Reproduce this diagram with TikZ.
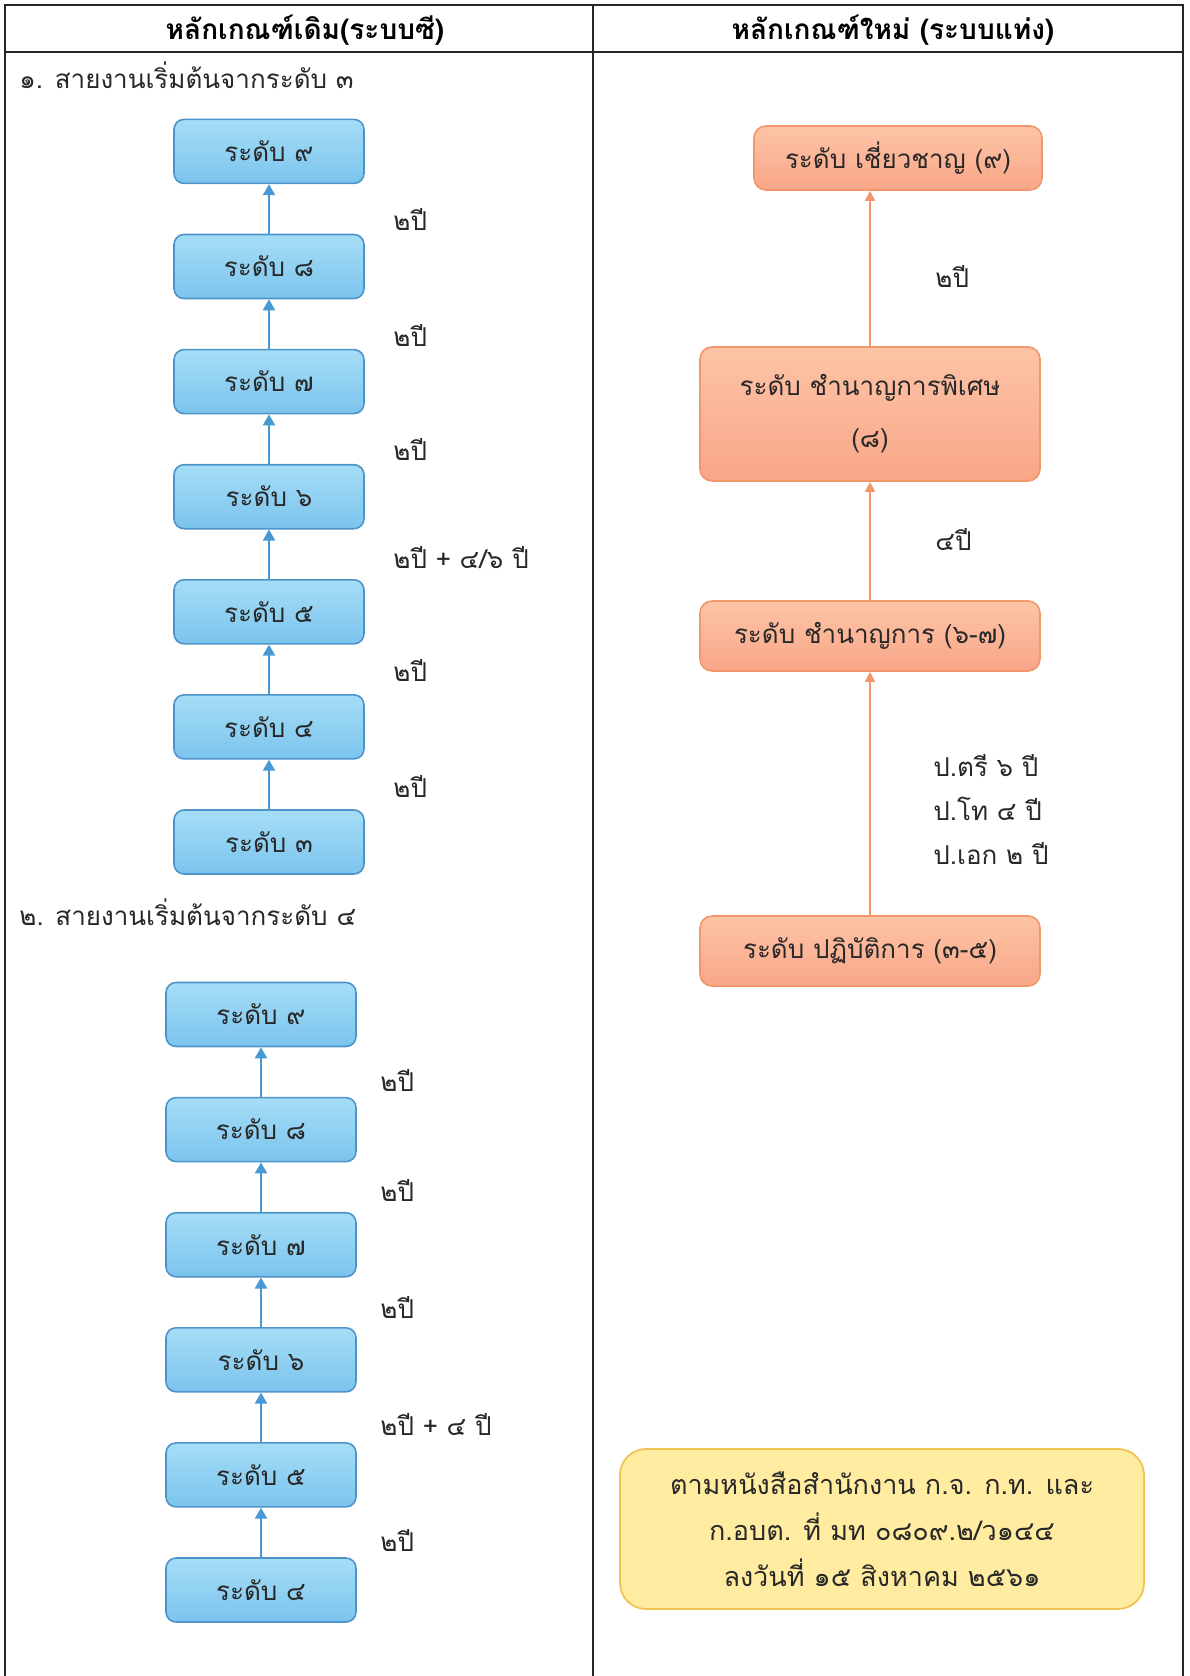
\documentclass[tikz,border=0pt]{standalone}
\usepackage{fontspec}
\setmainfont[Script=Thai]{Loma}
\usetikzlibrary{positioning,arrows.meta}
\definecolor{bluetop}{RGB}{165,221,246}
\definecolor{bluebot}{RGB}{124,196,238}
\definecolor{blueline}{RGB}{78,148,202}
\definecolor{bluearrow}{RGB}{72,152,212}
\definecolor{orangetop}{RGB}{253,196,166}
\definecolor{orangebot}{RGB}{249,166,136}
\definecolor{orangeline}{RGB}{242,150,108}
\definecolor{yellowfill}{RGB}{255,236,160}
\definecolor{yellowline}{RGB}{240,196,84}
\definecolor{inkgray}{RGB}{40,40,40}

\begin{document}
\begin{tikzpicture}[x=0.5pt,y=-0.5pt,font=\fontsize{13}{17}\selectfont,text=inkgray,node distance=24.75pt]
	\tikzset{LevelBox/.style={draw=blueline,line width=0.8pt,rounded corners=5pt,
			top color=bluetop,bottom color=bluebot,minimum width=95pt,minimum height=32pt,inner sep=0pt}}
	\tikzset{RankBox/.style={draw=orangeline,line width=0.8pt,rounded corners=6pt,
			top color=orangetop,bottom color=orangebot,minimum width=170pt,minimum height=35pt,inner sep=0pt}}
	\tikzset{NoteBox/.style={draw=yellowline,line width=0.9pt,rounded corners=13pt,fill=yellowfill,
			minimum width=262pt,minimum height=80pt,align=center,font=\fontsize{13.5}{23}\selectfont}}
	\tikzset{UpBlue/.style={-{Triangle[width=6pt,length=5.5pt]},draw=bluearrow,line width=1.1pt}}
	\tikzset{UpOrange/.style={-{Triangle[width=5pt,length=5pt]},draw=orangeline,line width=0.8pt}}
	\tikzset{YearLbl/.style={anchor=west,inner sep=0pt}}
	\tikzset{TableRule/.style={line width=1pt,draw=black!85}}
	\tikzset{HeadLbl/.style={font=\fontsize{14}{17}\selectfont\bfseries,text=black}}
	\useasboundingbox (0,0) rectangle (1189,1676);

	\draw[TableRule] (5,1676) -- (5,5) -- (1183,5) -- (1183,1676);
	\draw[TableRule] (5,52) -- (1183,52);
	\draw[TableRule] (593,5) -- (593,1676);
	\node[HeadLbl] (hOld) at (305,30) {หลักเกณฑ์เดิม(ระบบซี)};
	\node[HeadLbl] (hNew) at (893,30) {หลักเกณฑ์ใหม่ (ระบบแท่ง)};

	\node[anchor=west,inner sep=0pt] (secA) at (19,75) {๑. สายงานเริ่มต้นจากระดับ ๓};
	\node[LevelBox] (aL3) at (269,842) {ระดับ ๓};
	\node[LevelBox,above=of aL3] (aL4) {ระดับ ๔};
	\node[LevelBox,above=of aL4] (aL5) {ระดับ ๕};
	\node[LevelBox,above=of aL5] (aL6) {ระดับ ๖};
	\node[LevelBox,above=of aL6] (aL7) {ระดับ ๗};
	\node[LevelBox,above=of aL7] (aL8) {ระดับ ๘};
	\node[LevelBox,above=of aL8] (aL9) {ระดับ ๙};
	\draw[UpBlue] (aL3) -- (aL4);
	\draw[UpBlue] (aL4) -- (aL5);
	\draw[UpBlue] (aL5) -- (aL6);
	\draw[UpBlue] (aL6) -- (aL7);
	\draw[UpBlue] (aL7) -- (aL8);
	\draw[UpBlue] (aL8) -- (aL9);
	\node[YearLbl] (aY34) at (393,786) {๒ปี};
	\node[YearLbl] (aY45) at (393,670) {๒ปี};
	\node[YearLbl] (aY56) at (393,558) {๒ปี + ๔/๖ ปี};
	\node[YearLbl] (aY67) at (393,449) {๒ปี};
	\node[YearLbl] (aY78) at (393,335) {๒ปี};
	\node[YearLbl] (aY89) at (393,219) {๒ปี};

	\node[anchor=west,inner sep=0pt] (secB) at (19,912) {๒. สายงานเริ่มต้นจากระดับ ๔};
	\node[LevelBox] (bL4) at (261,1590) {ระดับ ๔};
	\node[LevelBox,above=of bL4] (bL5) {ระดับ ๕};
	\node[LevelBox,above=of bL5] (bL6) {ระดับ ๖};
	\node[LevelBox,above=of bL6] (bL7) {ระดับ ๗};
	\node[LevelBox,above=of bL7] (bL8) {ระดับ ๘};
	\node[LevelBox,above=of bL8] (bL9) {ระดับ ๙};
	\draw[UpBlue] (bL4) -- (bL5);
	\draw[UpBlue] (bL5) -- (bL6);
	\draw[UpBlue] (bL6) -- (bL7);
	\draw[UpBlue] (bL7) -- (bL8);
	\draw[UpBlue] (bL8) -- (bL9);
	\node[YearLbl] (bY45) at (380,1540) {๒ปี};
	\node[YearLbl] (bY56) at (380,1425) {๒ปี + ๔ ปี};
	\node[YearLbl] (bY67) at (380,1307) {๒ปี};
	\node[YearLbl] (bY78) at (380,1190) {๒ปี};
	\node[YearLbl] (bY89) at (380,1080) {๒ปี};

	\node[RankBox,minimum width=144pt,minimum height=32pt] (rExpert) at (898,158) {ระดับ เชี่ยวชาญ (๙)};
	\node[RankBox,minimum height=67pt,align=center,font=\fontsize{13}{26}\selectfont] (rSenior) at (870,414) {ระดับ ชำนาญการพิเศษ\\(๘)};
	\node[RankBox] (rPro) at (870,636) {ระดับ ชำนาญการ (๖-๗)};
	\node[RankBox] (rOper) at (870,951) {ระดับ ปฏิบัติการ (๓-๕)};
	\draw[UpOrange] (rOper) -- (rPro);
	\draw[UpOrange] (rPro) -- (rSenior);
	\draw[UpOrange] (rSenior.north) -- (rSenior.north |- rExpert.south);
	\node[YearLbl] (rY89) at (935,276) {๒ปี};
	\node[YearLbl] (rY78) at (935,540) {๔ปี};
	\node[YearLbl,align=left,font=\fontsize{13}{22}\selectfont] (rY56) at (933,810) {ป.ตรี ๖ ปี\\ป.โท ๔ ปี\\ป.เอก ๒ ปี};

	\node[NoteBox] (note) at (882,1529) {ตามหนังสือสำนักงาน ก.จ. ก.ท. และ\\ก.อบต. ที่ มท ๐๘๐๙.๒/ว๑๔๔\\ลงวันที่ ๑๕ สิงหาคม ๒๕๖๑};
\end{tikzpicture}
\end{document}
